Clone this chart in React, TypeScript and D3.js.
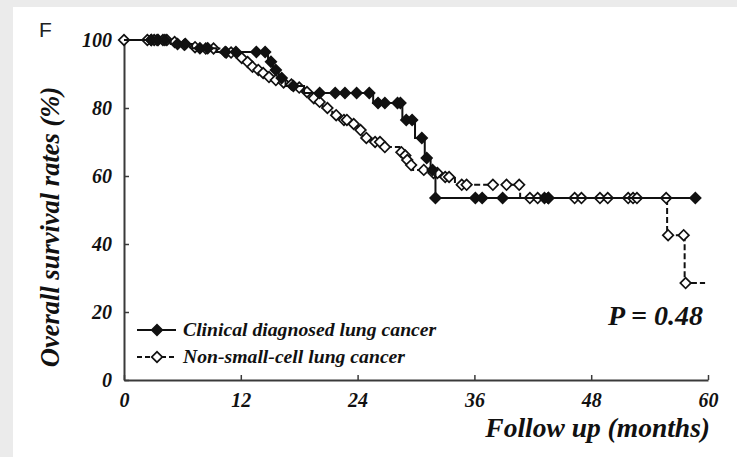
import { useEffect, useRef } from 'react';
import * as d3 from 'd3';

// Kaplan-Meier steps: [month, survival % after the drop]
const clinicalSteps: [number, number][] = [
  [0, 100], [4.8, 98.8], [7.0, 97.6], [9.5, 96.5], [14.8, 93.6], [15.3, 91.2],
  [15.9, 88.8], [16.6, 86.5], [18.5, 84.4], [25.6, 81.5], [28.6, 76.5],
  [29.9, 71.2], [30.9, 65.3], [31.5, 61.8], [32.0, 53.5],
];
const clinicalEnd = 58.9;
const clinicalCensored = [
  2.8, 3.4, 4.2, 5.5, 6.3, 7.8, 8.6, 10.4, 11.5, 13.6, 14.5, 15.1, 15.6, 16.2,
  17.4, 20.1, 21.7, 22.7, 23.9, 25.2, 26.1, 26.8, 28.1, 28.4, 29.0, 29.6, 30.6,
  31.1, 31.7, 32.0, 36.1, 36.8, 38.9, 43.2, 43.6, 58.7,
];

const nsclcSteps: [number, number][] = [
  [0, 100], [4.6, 99.4], [5.7, 98.6], [6.8, 97.9], [7.8, 97.5], [9.8, 96.3],
  [11.3, 95.6], [11.9, 94.7], [12.4, 93.5], [12.9, 92.1], [13.5, 91.2],
  [14.0, 90.3], [14.6, 89.1], [15.2, 88.2], [16.0, 87.5], [16.7, 86.9],
  [17.6, 86.0], [18.4, 84.7], [19.1, 82.9], [19.8, 81.8], [20.4, 80.0],
  [21.4, 77.9], [22.2, 76.5], [23.2, 75.3], [24.0, 73.5], [24.5, 71.2],
  [25.4, 70.0], [26.6, 68.5], [28.3, 67.0], [28.7, 66.0], [29.0, 64.7],
  [29.3, 63.2], [29.7, 61.8], [31.4, 60.9], [32.5, 59.7], [34.0, 57.4],
  [40.7, 53.5], [55.8, 42.6], [57.6, 28.5],
];
const nsclcEnd = 59.7;
const nsclcCensored = [
  0, 2.4, 2.8, 3.1, 3.5, 4.0, 4.4, 5.2, 6.2, 7.3, 8.4, 9.2, 10.5, 11.0, 12.1,
  12.7, 13.2, 13.8, 14.3, 14.9, 15.6, 16.4, 17.2, 18.0, 18.8, 19.5, 20.1, 20.9,
  21.8, 22.6, 22.9, 23.6, 24.3, 24.9, 25.8, 26.3, 26.8, 28.5, 28.9, 29.1, 29.5,
  30.8, 31.8, 32.2, 33.0, 33.4, 34.7, 35.2, 37.9, 39.3, 40.6, 41.7, 42.5, 43.6,
  46.3, 47.0, 48.9, 49.7, 51.8, 52.3, 52.7, 55.7, 55.9, 57.5, 57.7,
];

const xTicks = [0, 12, 24, 36, 48, 60];
const yTicks = [0, 20, 40, 60, 80, 100];
const legendLabels = ['Clinical diagnosed lung cancer', 'Non-small-cell lung cancer'];

const serif = "'Liberation Serif', 'Times New Roman', serif";

function survivalAt(steps: [number, number][], t: number) {
  let s = steps[0][1];
  for (const [st, sv] of steps) if (st <= t) s = sv;
  return s;
}

export default function App() {
  const svgRef = useRef<SVGSVGElement>(null);

  useEffect(() => {
    const W = 737;
    const H = 457;
    const svg = d3.select(svgRef.current).attr('width', W).attr('height', H);
    svg.selectAll('*').remove();

    // frame
    svg.append('rect').attr('width', W).attr('height', H).attr('fill', '#ebebeb');
    svg.append('rect').attr('x', 13).attr('y', 7).attr('width', W - 13).attr('height', H - 7).attr('fill', '#fff');

    const x = d3.scaleLinear().domain([0, 60]).range([124, 708]);
    const y = d3.scaleLinear().domain([0, 100]).range([380, 40]);

    const boldItalic = (sel: d3.Selection<any, any, any, any>, size: number) =>
      sel.attr('fill', '#111')
        .style('font-family', serif).style('font-size', `${size}px`)
        .style('font-weight', 'bold').style('font-style', 'italic');

    // x axis
    svg.append('g')
      .attr('transform', 'translate(0,380)')
      .call(d3.axisBottom(x).tickValues(xTicks).tickSize(-5).tickSizeOuter(0))
      .call(g => {
        g.select('.domain').attr('stroke', '#3a3a3a').attr('stroke-width', 2);
        g.selectAll('.tick line').attr('stroke', '#3a3a3a').attr('stroke-width', 1.5);
        boldItalic(g.selectAll('.tick text').attr('y', 27).attr('dy', null), 20);
      });

    // y axis
    svg.append('g')
      .attr('transform', 'translate(124,0)')
      .call(d3.axisLeft(y).tickValues(yTicks).tickSize(-5).tickSizeOuter(0))
      .call(g => {
        g.select('.domain').attr('stroke', '#3a3a3a').attr('stroke-width', 2);
        g.selectAll('.tick line').attr('stroke', '#3a3a3a').attr('stroke-width', 1.5);
        boldItalic(g.selectAll('.tick text').attr('x', -12).attr('dy', '0.34em'), 20);
      });

    const line = d3.line<[number, number]>()
      .x(d => x(d[0]))
      .y(d => y(d[1]))
      .curve(d3.curveStepAfter);

    const marker = d3.symbol().type(d3.symbolSquare).size(56);

    const drawSeries = (steps: [number, number][], end: number, censored: number[], filled: boolean) => {
      const pts: [number, number][] = [...steps, [end, steps[steps.length - 1][1]]];
      svg.append('path')
        .datum(pts)
        .attr('fill', 'none')
        .attr('stroke', '#111')
        .attr('stroke-width', 2)
        .attr('stroke-dasharray', filled ? null : '6,3')
        .attr('d', line);
      svg.append('g').selectAll('path')
        .data(censored)
        .join('path')
        .attr('transform', t => `translate(${x(t)},${y(survivalAt(steps, t))}) rotate(45)`)
        .attr('d', marker)
        .attr('fill', filled ? '#111' : '#fff')
        .attr('stroke', '#111')
        .attr('stroke-width', 1.7);
    };

    drawSeries(nsclcSteps, nsclcEnd, nsclcCensored, false);
    drawSeries(clinicalSteps, clinicalEnd, clinicalCensored, true);

    // legend
    legendLabels.forEach((label, i) => {
      const ly = 330 + i * 27;
      const filled = i === 0;
      svg.append('line')
        .attr('x1', 137).attr('x2', 176).attr('y1', ly).attr('y2', ly)
        .attr('stroke', '#111').attr('stroke-width', 2)
        .attr('stroke-dasharray', filled ? null : '5,3');
      svg.append('path')
        .attr('transform', `translate(157,${ly}) rotate(45)`)
        .attr('d', marker)
        .attr('fill', filled ? '#111' : '#fff')
        .attr('stroke', '#111').attr('stroke-width', 1.7);
      boldItalic(svg.append('text').attr('x', 183).attr('y', ly + 6), 19.7).text(label);
    });

    // p-value
    boldItalic(svg.append('text').attr('x', 703).attr('y', 325).attr('text-anchor', 'end'), 28)
      .text('P = 0.48');

    // axis titles
    boldItalic(svg.append('text').attr('x', 710).attr('y', 437).attr('text-anchor', 'end'), 27.5)
      .text('Follow up (months)');

    boldItalic(svg.append('text')
      .attr('transform', 'translate(59,227) rotate(-90)')
      .attr('text-anchor', 'middle'), 26.5)
      .text('Overall survival rates (%)');

    // panel letter
    svg.append('text')
      .attr('x', 39).attr('y', 37)
      .attr('fill', '#222')
      .style('font-family', "'Liberation Sans', Arial, sans-serif").style('font-size', '21px')
      .text('F');
  }, []);

  return (
    <div style={{ position: 'absolute', left: 0, top: 0 }}>
      <svg ref={svgRef}></svg>
    </div>
  );
}
